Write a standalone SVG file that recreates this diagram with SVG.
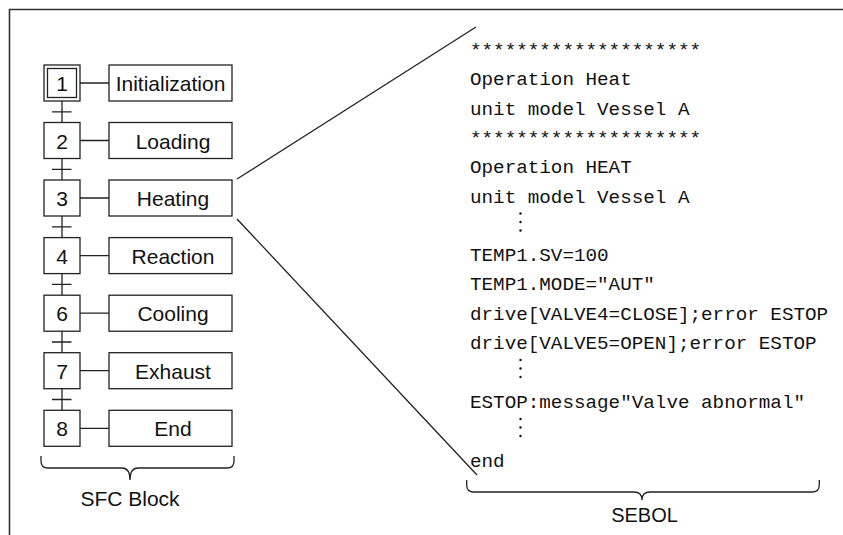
<svg xmlns="http://www.w3.org/2000/svg" width="843" height="535" viewBox="0 0 843 535">
<style>
.box{fill:#fff;stroke:#222;stroke-width:1.3}
.ln{fill:none;stroke:#222;stroke-width:1.3}
.lbl{font-family:"Liberation Sans",Arial,sans-serif;font-size:21px;fill:#111;text-anchor:middle}
.code{font-family:"Liberation Mono","Courier New",monospace;font-size:19.25px;fill:#111}
.dot{fill:#111}
</style>
<rect width="843" height="535" fill="#fff"/>
<g id="frame"><path fill="none" stroke="#333" stroke-width="1.6" d="M9.5,535 L9.5,9.5 L843,9.5"/></g>

<g id="step1"><rect class="box" x="44" y="65" width="36" height="36"/><rect class="box" x="47.5" y="68.5" width="29" height="29"/><text class="lbl" x="62" y="91">1</text></g>
<g id="action1"><rect class="box" x="109" y="65" width="123" height="36"/><text class="lbl" x="170.5" y="91">Initialization</text></g>

<g id="step2"><rect class="box" x="44" y="122.5" width="36" height="36"/><text class="lbl" x="62" y="148.5">2</text></g>
<g id="action2"><rect class="box" x="109" y="122.5" width="123" height="36"/><text class="lbl" x="173" y="148.5">Loading</text></g>

<g id="step3"><rect class="box" x="44" y="180" width="36" height="36"/><text class="lbl" x="62" y="206">3</text></g>
<g id="action3"><rect class="box" x="109" y="180" width="123" height="36"/><text class="lbl" x="173" y="206">Heating</text></g>

<g id="step4"><rect class="box" x="44" y="237.6" width="36" height="36"/><text class="lbl" x="62" y="263.6">4</text></g>
<g id="action4"><rect class="box" x="109" y="237.6" width="123" height="36"/><text class="lbl" x="173" y="263.6">Reaction</text></g>

<g id="step6"><rect class="box" x="44" y="295.2" width="36" height="36"/><text class="lbl" x="62" y="321.2">6</text></g>
<g id="action6"><rect class="box" x="109" y="295.2" width="123" height="36"/><text class="lbl" x="173" y="321.2">Cooling</text></g>

<g id="step7"><rect class="box" x="44" y="352.7" width="36" height="36"/><text class="lbl" x="62" y="378.7">7</text></g>
<g id="action7"><rect class="box" x="109" y="352.7" width="123" height="36"/><text class="lbl" x="173" y="378.7">Exhaust</text></g>

<g id="step8"><rect class="box" x="44" y="410.3" width="36" height="36"/><text class="lbl" x="62" y="436.3">8</text></g>
<g id="action8"><rect class="box" x="109" y="410.3" width="123" height="36"/><text class="lbl" x="173" y="436.3">End</text></g>

<g id="connectors">
<path class="ln" d="M62,101 V122.5 M52,111.8 H71.5 M62,158.5 V180 M52,169.3 H71.5 M62,216 V237.6 M52,226.8 H71.5 M62,273.6 V295.2 M52,284.4 H71.5 M62,331.2 V352.7 M52,342 H71.5 M62,388.7 V410.3 M52,399.5 H71.5"/>
<path class="ln" d="M80,83 H109 M80,140.5 H109 M80,198 H109 M80,255.6 H109 M80,313.2 H109 M80,370.7 H109 M80,428.3 H109"/>
<path class="ln" d="M237,179 L476,27 M237,219 L477,475"/>
<path class="ln" d="M41,456 L41,461 Q41,468 48,468 L122,468 Q130,468 130,480 Q130,468 138,468 L227,468 Q234,468 234,461 L234,456"/>
<path class="ln" d="M466.7,480 L466.7,485 Q466.7,492 473.7,492 L634,492 Q642,492 642,500 Q642,492 650,492 L812,492 Q819.3,492 819.3,485 L819.3,480"/>
</g>

<g id="sfc-label"><text class="lbl" x="130" y="505.5">SFC Block</text></g>
<g id="sebol-label"><text class="lbl" x="644.5" y="522" style="font-size:20px">SEBOL</text></g>

<g id="sebol-code">
<text class="code" x="470" y="56">********************</text>
<text class="code" x="470" y="85.3">Operation Heat</text>
<text class="code" x="470" y="114.6">unit model Vessel A</text>
<text class="code" x="470" y="143.9">********************</text>
<text class="code" x="470" y="173.2">Operation HEAT</text>
<text class="code" x="470" y="202.5">unit model Vessel A</text>
<circle class="dot" cx="520.5" cy="213.5" r="1.2"/><circle class="dot" cx="520.5" cy="222" r="1.2"/><circle class="dot" cx="520.5" cy="230.5" r="1.2"/>
<text class="code" x="470" y="261.1">TEMP1.SV=100</text>
<text class="code" x="470" y="290.4">TEMP1.MODE="AUT"</text>
<text class="code" x="470" y="319.7">drive[VALVE4=CLOSE];error ESTOP</text>
<text class="code" x="470" y="349">drive[VALVE5=OPEN];error ESTOP</text>
<circle class="dot" cx="520.5" cy="360" r="1.2"/><circle class="dot" cx="520.5" cy="368.5" r="1.2"/><circle class="dot" cx="520.5" cy="377" r="1.2"/>
<text class="code" x="470" y="407.6">ESTOP:message"Valve abnormal"</text>
<circle class="dot" cx="520.5" cy="419" r="1.2"/><circle class="dot" cx="520.5" cy="427.5" r="1.2"/><circle class="dot" cx="520.5" cy="436" r="1.2"/>
<text class="code" x="470" y="466.5">end</text>
</g>
</svg>
